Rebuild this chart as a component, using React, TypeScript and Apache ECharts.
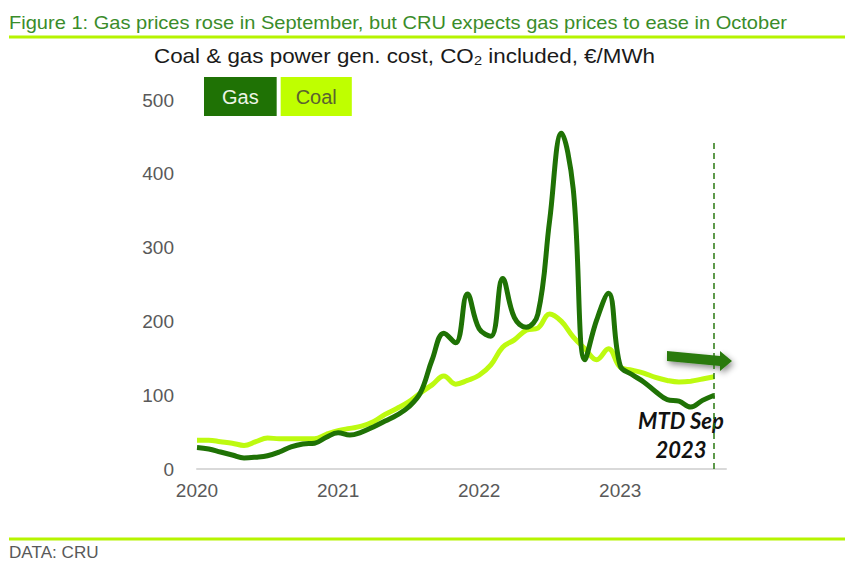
import React, { useEffect, useRef } from "react";
import * as echarts from "echarts";

const years = ["2020", "2021", "2022", "2023"];
const monthNums = ["01", "02", "03", "04", "05", "06", "07", "08", "09", "10", "11", "12"];
// Jan 2020 .. Oct 2023 (Oct is an empty slot so the axis runs a little past Sep)
const months: string[] = [];
years.forEach((y) => monthNums.forEach((m) => months.push(`${y}-${m}`)));
const categories = months.slice(0, 46);

const gasValues = [
  29, 27, 23, 19, 15, 16, 18, 23, 30, 34, 35, 43,
  49, 46, 50, 57, 65, 73, 84, 103, 148, 184, 171, 237,
  190, 180, 258, 205, 192, 210, 337, 455, 380, 148, 202, 238,
  140, 128, 118, 105, 94, 92, 84, 93, 100,
];
const coalValues = [
  39, 39, 37, 35, 32, 37, 42, 41, 41, 41, 41, 47,
  52, 55, 58, 64, 74, 82, 91, 103, 114, 126, 115, 120,
  127, 141, 165, 175, 188, 191, 210, 200, 179, 163, 148, 163,
  138, 134, 130, 124, 120, 118, 119, 122, 125,
];
const yTicks = [0, 100, 200, 300, 400, 500];

const GAS = "#1f7205";
const COAL = "#bdfa10";
const LIME = "#b6f400";
const FONT = "Liberation Sans, Arial, sans-serif";

export default function App() {
  const ref = useRef<HTMLDivElement>(null);
  useEffect(() => {
    if (!ref.current) return;
    const chart = echarts.init(ref.current, null, { renderer: "svg" });
    chart.setOption({
      animation: false,
      backgroundColor: "#ffffff",
      textStyle: { fontFamily: FONT },
      legend: {
        left: 199,
        top: 77,
        padding: 0,
        icon: "none",
        itemWidth: 0,
        itemHeight: 0,
        itemGap: -1,
        selectedMode: false,
        data: [
          {
            name: "Gas",
            textStyle: {
              color: "#eef5e6",
              backgroundColor: GAS,
              fontSize: 20,
              padding: [10, 18, 9, 18],
              lineHeight: 20,
            },
          },
          {
            name: "Coal",
            textStyle: {
              color: "#5a6330",
              backgroundColor: "#bfff00",
              fontSize: 20,
              padding: [10, 15, 9, 15],
              lineHeight: 20,
            },
          },
        ],
      },
      grid: { left: 197, right: 124, top: 100, bottom: 101, containLabel: false },
      xAxis: {
        type: "category",
        data: categories,
        boundaryGap: false,
        axisLine: { show: true, lineStyle: { color: "#d9d9d9", width: 2 } },
        axisTick: { show: false },
        splitLine: { show: false },
        axisLabel: {
          interval: (i: number) => i % 12 === 0,
          formatter: (v: string) => v.slice(0, 4),
          color: "#595959",
          fontSize: 19,
          margin: 12,
          fontFamily: FONT,
        },
      },
      yAxis: {
        type: "value",
        min: yTicks[0],
        max: yTicks[yTicks.length - 1],
        interval: 100,
        axisLine: { show: false },
        axisTick: { show: false },
        splitLine: { show: false },
        axisLabel: { color: "#595959", fontSize: 19, margin: 23, fontFamily: FONT },
      },
      series: [
        {
          name: "Gas",
          type: "line",
          data: gasValues,
          smooth: 0.4,
          showSymbol: false,
          symbol: "none",
          lineStyle: { color: GAS, width: 5 },
          itemStyle: { color: GAS },
          z: 3,
          markLine: {
            silent: true,
            symbol: "none",
            label: { show: false },
            lineStyle: { color: "#2a7a10", width: 1.5, type: [6, 4] },
            data: [[{ coord: ["2023-09", 0] }, { coord: ["2023-09", 445] }]],
          },
        },
        {
          name: "Coal",
          type: "line",
          data: coalValues,
          smooth: 0.4,
          showSymbol: false,
          symbol: "none",
          lineStyle: { color: COAL, width: 5 },
          itemStyle: { color: COAL },
          z: 2,
        },
      ],
      graphic: [
        {
          type: "text",
          x: 9,
          y: 14,
          scaleX: 1.115,
          style: {
            text: "Figure 1: Gas prices rose in September, but CRU expects gas prices to ease in October",
            fill: "#3a8c2a",
            fontSize: 18,
            fontFamily: FONT,
            verticalAlign: "top",
          },
        },
        {
          type: "text",
          x: 154,
          y: 44,
          scaleX: 1.12,
          style: {
            text: "Coal & gas power gen. cost, CO{sub|2} included, €/MWh",
            fill: "#1a1a1a",
            fontSize: 20,
            fontFamily: FONT,
            verticalAlign: "top",
            rich: {
              sub: { fontSize: 13, fill: "#1a1a1a", padding: [10, 0, 0, 0], fontFamily: FONT },
            },
          },
        },
        { type: "line", shape: { x1: 9, y1: 37, x2: 845, y2: 37 }, style: { stroke: LIME, lineWidth: 3 } },
        { type: "line", shape: { x1: 9, y1: 539, x2: 845, y2: 539 }, style: { stroke: LIME, lineWidth: 3 } },
        {
          type: "text",
          x: 9,
          y: 545,
          scaleX: 1.07,
          style: { text: "DATA: CRU", fill: "#595959", fontSize: 16, fontFamily: FONT, verticalAlign: "top" },
        },
        {
          type: "polygon",
          shape: {
            points: [
              [667, 351],
              [720, 356],
              [720, 351],
              [732, 361],
              [720, 371],
              [720, 366],
              [667, 361],
            ],
          },
          style: {
            fill: "#2a7a10",
            shadowBlur: 6,
            shadowColor: "rgba(0,0,0,0.45)",
            shadowOffsetX: 2,
            shadowOffsetY: 3,
          },
        },
        {
          type: "text",
          x: 681,
          y: 406,
          style: {
            text: "MTD Sep\n2023",
            fill: "#111111",
            fontSize: 22,
            fontWeight: "bold",
            fontStyle: "italic",
            lineHeight: 29,
            align: "center",
            fontFamily: "Lato, Open Sans, sans-serif",
          },
        },
      ],
    });
    return () => chart.dispose();
  }, []);
  return <div ref={ref} style={{ position: "fixed", left: 0, top: 0, width: 850, height: 570 }} />;
}
